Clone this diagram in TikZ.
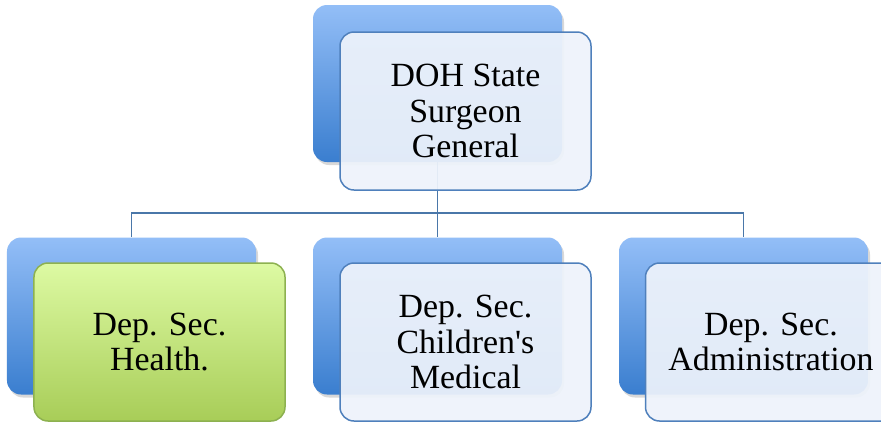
\documentclass[tikz,border=0pt]{standalone}
\usepackage{fontspec}
\setmainfont{Liberation Serif}
\usetikzlibrary{shadows}
\definecolor{backtop}{HTML}{93BEF7}
\definecolor{backbot}{HTML}{3A7ECF}
\definecolor{frontfill}{HTML}{EEF3FB}
\definecolor{frontline}{HTML}{4F80BC}
\definecolor{conncol}{HTML}{4A77A9}
\definecolor{greentop}{HTML}{DDFAA3}
\definecolor{greenbot}{HTML}{A8CD58}
\definecolor{greenline}{HTML}{8DB150}
\tikzset{
  backbox/.style={rectangle, rounded corners=14bp, minimum width=249bp,
    minimum height=157bp, inner sep=0pt, top color=backtop, bottom color=backbot,
    draw=none, drop shadow={opacity=0.3, shadow xshift=2bp, shadow yshift=-3bp}},
  frontbox/.style={rectangle, rounded corners=14bp, minimum width=251bp,
    minimum height=158bp, inner sep=0pt, draw=frontline, line width=1.5bp,
    fill=frontfill, fill opacity=0.93, text opacity=1, align=center,
    font=\fontsize{34}{36}\selectfont, text=black},
  greenbox/.style={frontbox, draw=greenline, top color=greentop,
    bottom color=greenbot, fill opacity=1},
  conn/.style={draw=conncol, line width=1.8bp},
}
\begin{document}
\begin{tikzpicture}[x=1bp, y=-1bp]
  \useasboundingbox (0,0) rectangle (881,424);
  \fill[white] (0,0) rectangle (881,424);
  \clip (0,0) rectangle (881,424);

  % back panels
  \node[backbox] (tb) at (437.5,83.5) {};
  \node[backbox] (lb) at (131.5,316) {};
  \node[backbox] (mb) at (437.5,316) {};
  \node[backbox] (rb) at (743.5,316) {};

  % organisation lines
  \draw[conn] (tb.south) -- ++(0,51) coordinate (bus);
  \draw[conn] (bus) -| (lb.north);
  \draw[conn] (bus) -| (rb.north);
  \draw[conn] (bus) -- (mb.north);

  % front panels with titles
  \node[frontbox] (tf) at (465.5,111) {DOH State\\Surgeon\\General};
  \node[greenbox] (lf) at (159.5,342) {Dep. Sec.\\Health.};
  \node[frontbox] (mf) at (465.5,342) {Dep. Sec.\\Children\textquotesingle s\\Medical};
  \node[frontbox] (rf) at (771,342) {Dep. Sec.\\Administration};
\end{tikzpicture}
\end{document}
